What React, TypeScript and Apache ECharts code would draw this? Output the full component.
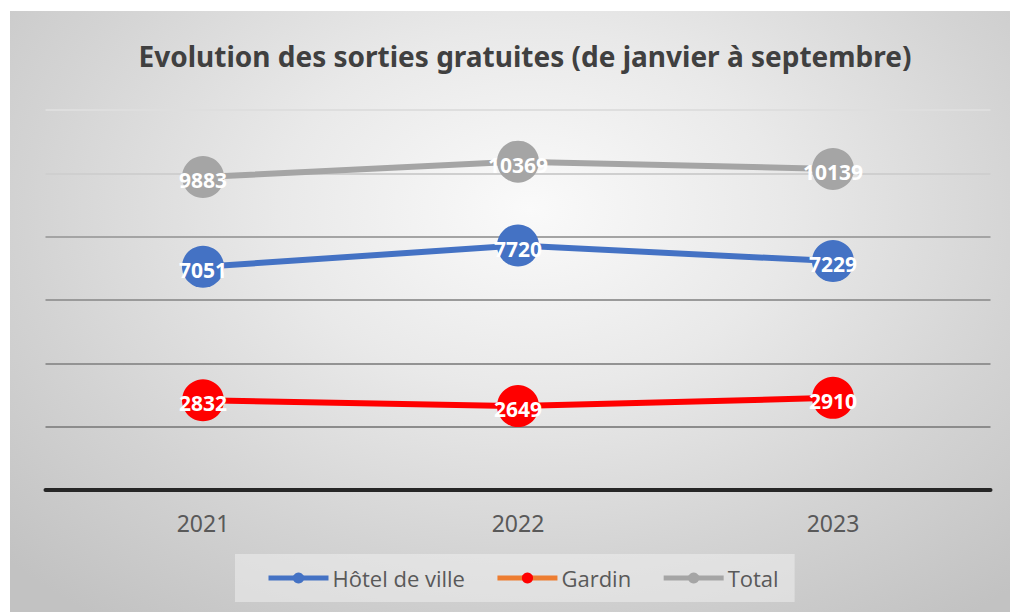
import React, { useEffect, useRef } from "react";
import * as echarts from "echarts";

const years = ["2021", "2022", "2023"];
const hotelDeVille = [7051, 7720, 7229];
const gardin = [2832, 2649, 2910];
const total = [9883, 10369, 10139];
const yTicks = { min: 0, max: 12000, interval: 2000 };

export default function App() {
  const ref = useRef<HTMLDivElement>(null);
  useEffect(() => {
    if (!ref.current) return;
    const chart = echarts.init(ref.current, undefined, { renderer: "svg" });
    const labelStyle = {
      show: true,
      position: "inside",
      color: "#ffffff",
      fontWeight: "bold",
      fontSize: 21,
      fontFamily: "'Noto Sans', sans-serif",
      offset: [0, 3],
    };
    const mk = (name: string, data: number[], color: string) => ({
      name,
      type: "line",
      data,
      symbol: "circle",
      symbolSize: 42,
      lineStyle: { color, width: 6 },
      itemStyle: { color },
      label: labelStyle,
      z: 3,
    });
    chart.setOption({
      animation: false,
      backgroundColor: "transparent",
      title: {
        text: "Evolution des sorties gratuites (de janvier à septembre)",
        left: 510,
        textAlign: "center",
        top: 26,
        textStyle: {
          color: "#404040",
          fontSize: 28,
          fontWeight: "bold",
          fontFamily: "'Noto Sans', sans-serif",
        },
      },
      legend: {
        data: [
          { name: "Hôtel de ville" },
          { name: "Gardin", lineStyle: { color: "#ED7D31", width: 5 }, itemStyle: { color: "#FF0000" } },
          { name: "Total" },
        ],
        left: 225,
        top: 543,
        orient: "horizontal",
        itemWidth: 60,
        itemHeight: 14,
        itemGap: 30,
        padding: [13, 16, 13, 31],
        backgroundColor: "rgba(238,238,238,0.55)",
        lineStyle: { width: 5 },
        textStyle: {
          color: "#595959",
          fontSize: 22,
          fontFamily: "'Open Sans', sans-serif",
          padding: [0, 0, 0, -1],
        },
      },
      grid: { left: 35.5, right: 19.5, top: 99, bottom: 122 },
      xAxis: {
        type: "category",
        data: years,
        boundaryGap: true,
        axisLine: { show: true, lineStyle: { color: "#262626", width: 4 } },
        axisTick: { show: false },
        axisLabel: {
          color: "#595959",
          fontSize: 23,
          margin: 21,
          fontFamily: "'Noto Sans', sans-serif",
        },
      },
      yAxis: {
        type: "value",
        min: yTicks.min,
        max: yTicks.max,
        interval: yTicks.interval,
        axisLabel: { show: false },
        axisLine: { show: false },
        axisTick: { show: false },
        splitLine: {
          show: true,
          lineStyle: {
            width: 2,
            color: ["#262626", "#8c8c8c", "#939393", "#9a9a9a", "#a4a4a4", "#cfcfcf", "#dedede"],
          },
        },
      },
      series: [
        mk("Hôtel de ville", hotelDeVille, "#4472C4"),
        mk("Gardin", gardin, "#FF0000"),
        mk("Total", total, "#A5A5A5"),
      ],
    });
    return () => chart.dispose();
  }, []);
  return (
    <div style={{ position: "fixed", left: 0, top: 0, width: 1010, height: 612, background: "#ffffff" }}>
      <div
        style={{
          position: "absolute",
          left: 10,
          top: 11,
          width: 1000,
          height: 601,
          background:
            "radial-gradient(ellipse 72% 85% at 52% 33%, #fafafa 0%, #e9e9e9 35%, #d3d3d3 70%, #c2c2c2 100%)",
        }}
      >
        <div ref={ref} style={{ width: 1000, height: 601 }} />
      </div>
    </div>
  );
}
